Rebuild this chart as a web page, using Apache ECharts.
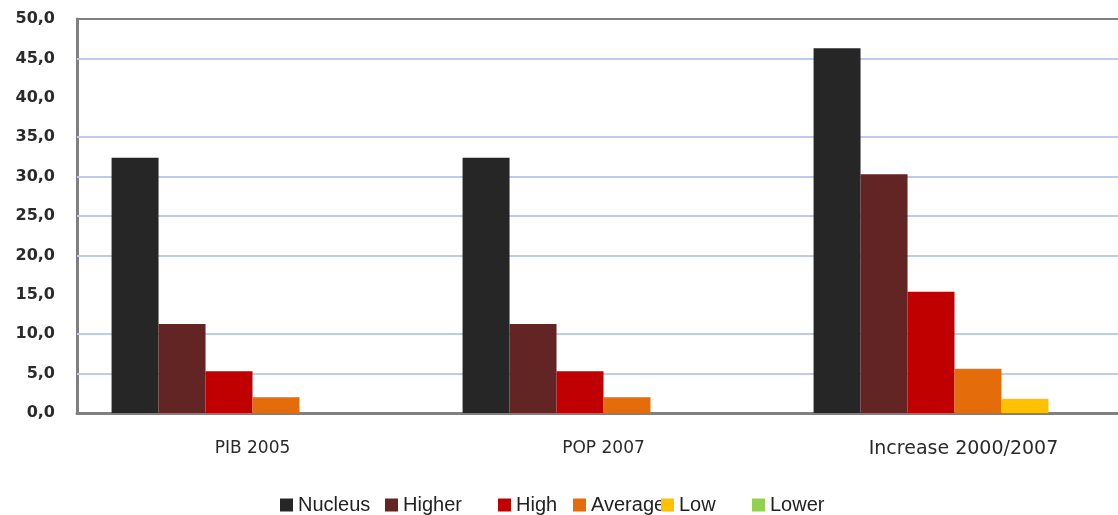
<!DOCTYPE html>
<html><head><meta charset="utf-8">
<script src="https://cdn.jsdelivr.net/npm/echarts@6/dist/echarts.min.js"></script>
<style>html,body{margin:0;padding:0;background:#fff}#c{width:1118px;height:515px}</style>
</head><body><div id="c"></div>
<script>
const categories = ['PIB 2005', 'POP 2007', 'Increase 2000/2007'];
const nucleus = [32.4, 32.4, 46.3];
const higher  = [11.3, 11.3, 30.3];
const high    = [5.3, 5.3, 15.4];
const average = [2.0, 2.0, 5.6];
const low     = [null, null, 1.8];
const lower   = [null, null, null];
const visibleGridValues = [5, 10, 20, 25, 30, 35, 45];
const seriesNames = ['Nucleus', 'Higher', 'High', 'Average', 'Low', 'Lower'];
const seriesValues = [nucleus, higher, high, average, low, lower];
const colors = ['#262626', '#632523', '#c00000', '#e46c0a', '#ffc000', '#92d050'];
const legendLeft = [280, 385, 498, 573, 661, 752];

const chart = echarts.init(document.getElementById('c'));
chart.setOption({
  animation: false,
  color: colors,
  grid: { left: 77, top: 19, height: 394, width: 1053, outerBoundsMode: 'none', containLabel: false,
          show: true, borderColor: '#808080', borderWidth: 2, backgroundColor: '#fff' },
  legend: seriesNames.map((n, i) => ({
    data: [n], left: legendLeft[i], top: 495, padding: 0,
    itemWidth: 13, itemHeight: 13, icon: 'rect',
    textStyle: { fontFamily: 'Liberation Sans', fontSize: 20, color: '#222' }
  })),
  xAxis: {
    type: 'category', data: categories,
    axisLine: { lineStyle: { color: '#808080', width: 3 } },
    axisTick: { show: false },
    splitLine: { show: false },
    axisLabel: {
      margin: 27,
      formatter: (v, i) => i === 2 ? '{b|' + v + '}' : '{a|' + v + '}',
      rich: {
        a: { fontFamily: 'DejaVu Sans', fontSize: 17, color: '#2a2a2a' },
        b: { fontFamily: 'DejaVu Sans', fontSize: 19, color: '#2a2a2a', padding: [0, 0, 0, 18] }
      }
    }
  },
  yAxis: {
    type: 'value', min: 0, max: 50, interval: 5,
    axisLine: { show: true, lineStyle: { color: '#808080', width: 3 } },
    axisTick: { show: false },
    axisLabel: { margin: 22, fontFamily: 'DejaVu Sans', fontSize: 16, fontWeight: 'bold', color: '#2a2a2a',
      formatter: v => v.toFixed(1).replace('.', ',') },
    splitLine: { show: false, lineStyle: { color: '#ffffff', width: 0 } }
  },
  series: seriesNames.map((n, i) => ({
    name: n, type: 'bar', data: seriesValues[i],
    barGap: 0, barCategoryGap: '19.7%', z: 3,
    markLine: i === 0 ? {
      silent: true, symbol: 'none', label: { show: false }, z: 1,
      lineStyle: { color: '#bccbee', width: 2, type: 'solid' },
      data: visibleGridValues.map(v => ({ yAxis: v }))
    } : undefined
  }))
});
</script></body></html>
